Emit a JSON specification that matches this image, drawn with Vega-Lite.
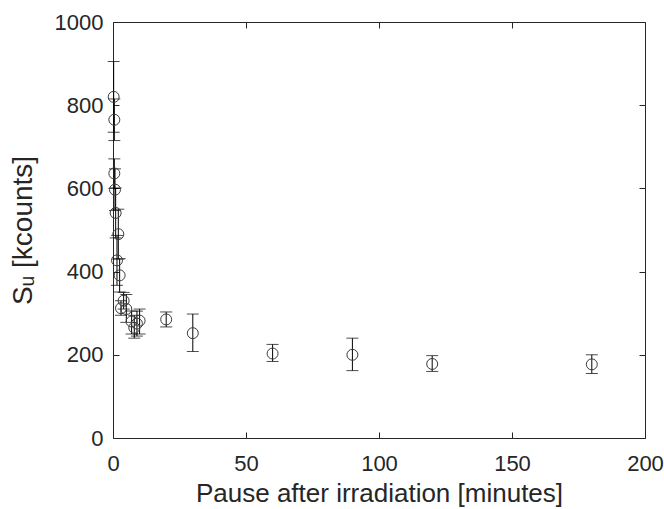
{
  "$schema": "https://vega.github.io/schema/vega-lite/v6.json",
  "autosize": "none",
  "width": 532,
  "height": 416,
  "padding": {"left": 113, "top": 22, "right": 19, "bottom": 71},
  "background": "white",
  "config": {
    "view": {"stroke": "#262626", "strokeWidth": 1},
    "font": "Liberation Sans",
    "axis": {
      "domain": false,
      "ticks": false,
      "tickSize": 0,
      "labelColor": "#262626",
      "titleColor": "#262626",
      "labelFont": "Liberation Sans",
      "titleFont": "Liberation Sans",
      "labelFontSize": 22,
      "titleFontSize": 26,
      "titleFontWeight": "normal",
      "grid": true,
      "gridColor": "#262626",
      "gridOpacity": 1,
      "gridWidth": 1,
      "labelFlush": false,
      "labelOverlap": false
    }
  },
  "data": {
    "values": [
      {"t": 0.25, "s": 820, "lo": 735, "hi": 905},
      {"t": 0.5, "s": 765, "lo": 715, "hi": 815},
      {"t": 0.5, "s": 636, "lo": 600, "hi": 671},
      {"t": 0.75, "s": 597, "lo": 547, "hi": 647},
      {"t": 1, "s": 541, "lo": 481, "hi": 601},
      {"t": 2, "s": 490, "lo": 430, "hi": 550},
      {"t": 1.5, "s": 427, "lo": 367, "hi": 487},
      {"t": 2.5, "s": 391, "lo": 351, "hi": 431},
      {"t": 3, "s": 312, "lo": 295, "hi": 330},
      {"t": 4, "s": 330, "lo": 310, "hi": 350},
      {"t": 5, "s": 310, "lo": 278, "hi": 345},
      {"t": 7, "s": 280, "lo": 250, "hi": 305},
      {"t": 8, "s": 265, "lo": 240, "hi": 295},
      {"t": 9, "s": 275, "lo": 245, "hi": 305},
      {"t": 10, "s": 282, "lo": 250, "hi": 310},
      {"t": 20, "s": 285, "lo": 267, "hi": 303},
      {"t": 30, "s": 252, "lo": 208, "hi": 298},
      {"t": 60, "s": 203, "lo": 184, "hi": 225},
      {"t": 90, "s": 200, "lo": 162, "hi": 240},
      {"t": 120, "s": 178, "lo": 160, "hi": 198},
      {"t": 180, "s": 177, "lo": 155, "hi": 200}
    ]
  },
  "layer": [
    {
      "mark": {"type": "rule", "color": "#000000", "strokeWidth": 1},
      "encoding": {
        "x": {"field": "t", "type": "quantitative", "scale": {"domain": [0, 200], "nice": false},
          "axis": {"orient": "bottom", "title": "Pause after irradiation [minutes]", "values": [0, 50, 100, 150, 200], "format": "d", "gridDash": [6, 404, 6, 100], "labelPadding": 15, "titlePadding": 6}},
        "y": {"field": "lo", "type": "quantitative", "scale": {"domain": [0, 1000], "nice": false},
          "axis": {"orient": "left", "title": "Sᵤ [kcounts]", "titleFontSize": 28, "values": [0, 200, 400, 600, 800, 1000], "format": "d", "gridDash": [6, 520, 6, 100], "labelPadding": 10, "titlePadding": 17}},
        "y2": {"field": "hi"}
      }
    },
    {
      "mark": {"type": "tick", "color": "#000000", "size": 12, "thickness": 1, "orient": "horizontal"},
      "encoding": {
        "x": {"field": "t", "type": "quantitative"},
        "y": {"field": "lo", "type": "quantitative"}
      }
    },
    {
      "mark": {"type": "tick", "color": "#000000", "size": 12, "thickness": 1, "orient": "horizontal"},
      "encoding": {
        "x": {"field": "t", "type": "quantitative"},
        "y": {"field": "hi", "type": "quantitative"}
      }
    },
    {
      "mark": {"type": "point", "shape": "circle", "filled": false, "stroke": "#3a3a3a", "strokeWidth": 1, "size": 120, "opacity": 1},
      "encoding": {
        "x": {"field": "t", "type": "quantitative"},
        "y": {"field": "s", "type": "quantitative"}
      }
    }
  ]
}
